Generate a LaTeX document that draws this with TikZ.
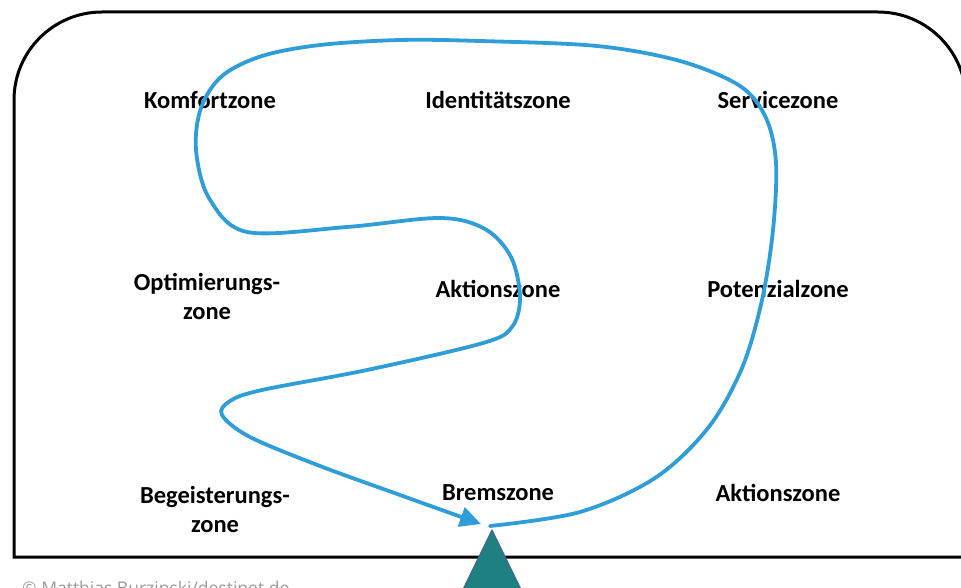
\documentclass[tikz,border=0pt]{standalone}
\usepackage{fontspec}
\setmainfont{Carlito}
\newfontfamily\notefont{Open Sans}
\usetikzlibrary{arrows.meta}

\definecolor{pathblue}{RGB}{46,157,216}
\definecolor{tealfill}{RGB}{31,128,128}
\definecolor{tealline}{RGB}{65,105,150}

\def\colA{210}
\def\colB{498}
\def\colC{778}

\begin{document}
\begin{tikzpicture}[x=1pt,y=-1pt]
    \tikzstyle{zone}=[font=\fontsize{24.5}{29}\selectfont\bfseries, align=center, inner sep=0pt]
    \tikzstyle{route}=[draw=pathblue, line width=3.8pt, line cap=round]

    \useasboundingbox (0,0) rectangle (961,588);
    \clip (0,0) rectangle (961,588);

    % Frame with rounded upper corners (right side runs off the page)
    \draw[line width=3pt] (14,557) -- (14,100) arc[start angle=180, end angle=270, radius=88]
        -- (878,12) arc[start angle=270, end angle=360, radius=88] -- (966,557) -- cycle;

    % Zones, three rows
    \node[zone] (komfort) at (\colA,100) {Komfortzone};
    \node[zone] (ident) at (\colB,100) {Identitätszone};
    \node[zone] (service) at (\colC,100) {Servicezone};

    \node[zone] (optim) at (207,296) {Optimierungs-\\zone};
    \node[zone] (aktion) at (\colB,289) {Aktionszone};
    \node[zone] (potenz) at (\colC,289) {Potenzialzone};

    \node[zone] (begeist) at (215,509) {Begeisterungs-\\zone};
    \node[zone] (brems) at (\colB,493) {Bremszone};
    \node[zone] (aktion2) at (\colC,493) {Aktionszone};

    % Start and end of the route
    \coordinate (start) at (490,526);
    \coordinate (stop) at (481,524);

    % The route through the zones
    \draw[route, -{Triangle[length=21pt, width=20pt]}] plot[smooth, tension=0.55] coordinates {
        (start) (580,512) (655,478) (708,428) (742,368) (762,300) (773,230)
        (776,163) (766,118) (740,86) (680,61) (597,46) (480,41) (400,40)
        (320,45) (262,56) (222,76) (201,108) (196,150) (209,198) (247,232)
        (347,227) (440,218) (485,229) (511,257) (520,297) (512,327) (483,343)
        (367,370) (262,390) (230,401) (222,415) (250,437) (320,466) (400,495) (stop)};

    % Balance point below the route
    \draw[fill=tealfill, draw=tealline, line width=1.2pt, line join=round]
        (492,530) -- (452,612) -- (532,612) -- cycle;

    % Source line
    \node[anchor=base west, inner sep=0pt, text=black!40, font=\notefont\fontsize{17.5}{21}\selectfont] (source) at (22,594) {© Matthias Burzinski/destinet.de};
\end{tikzpicture}
\end{document}
